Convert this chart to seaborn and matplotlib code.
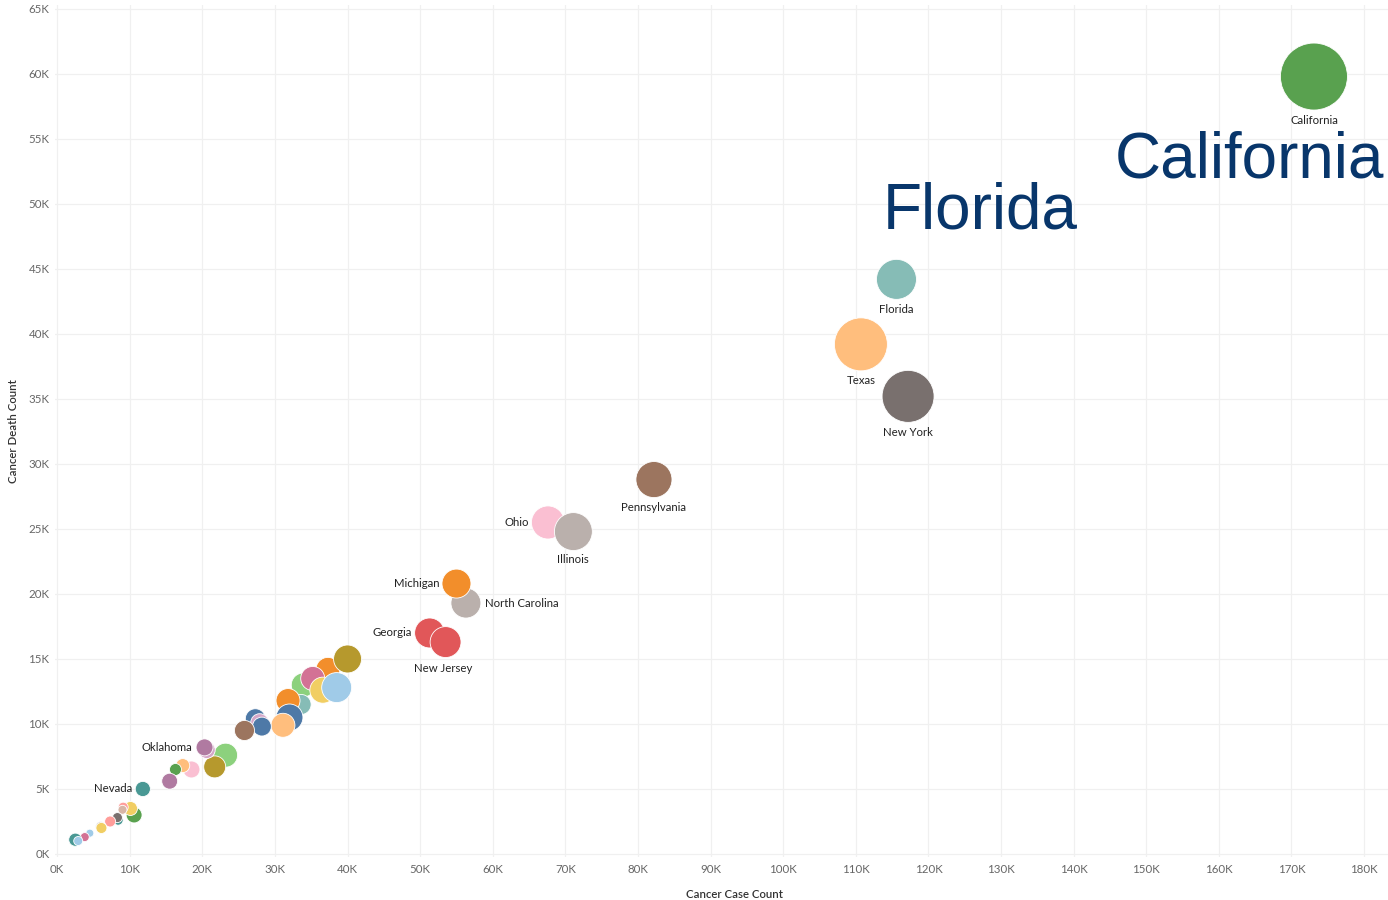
import matplotlib
matplotlib.use('Agg')

import pandas as pd
import numpy as np
import seaborn as sns
import matplotlib.pyplot as plt
from matplotlib.ticker import FuncFormatter, MultipleLocator

# values (thousands)
states = ['California', 'Florida', 'Texas', 'New York', 'Pennsylvania', 'Ohio',
          'Illinois', 'North Carolina', 'Michigan', 'Georgia', 'New Jersey',
          'Massachusetts', 'Virginia', 'Tennessee', 'Indiana', 'Missouri',
          'Washington', 'Wisconsin', 'Arizona', 'Maryland', 'Minnesota',
          'Alabama', 'South Carolina', 'Kentucky', 'Louisiana', 'Colorado',
          'Oregon', 'Iowa', 'Oklahoma', 'Arkansas', 'Kansas', 'Mississippi',
          'Connecticut', 'Nevada', 'West Virginia', 'Nebraska', 'Maine',
          'New Mexico', 'Idaho', 'Utah', 'New Hampshire', 'Montana',
          'Rhode Island', 'Delaware', 'South Dakota', 'Hawaii', 'Vermont']
case_count = [173.1, 115.6, 110.7, 117.2, 82.2, 67.6,
              71.1, 56.3, 55.0, 51.3, 53.5,
              37.3, 40.0, 33.9, 35.2, 36.6,
              38.5, 33.6, 31.8, 32.0, 31.1,
              27.3, 27.9, 28.2, 25.8, 23.2,
              21.7, 20.6, 20.3, 18.5, 17.3, 16.3,
              15.5, 11.8, 10.6, 10.1, 9.1,
              9.0, 8.4, 8.3, 7.3, 6.0,
              6.1, 4.5, 3.8, 2.5, 2.9]
death_count = [59.8, 44.2, 39.2, 35.2, 28.8, 25.5,
               24.8, 19.3, 20.8, 17.0, 16.3,
               14.2, 15.0, 13.0, 13.5, 12.6,
               12.8, 11.5, 11.8, 10.5, 9.9,
               10.4, 10.1, 9.8, 9.5, 7.6,
               6.7, 8.0, 8.2, 6.5, 6.8, 6.5,
               5.6, 5.0, 3.0, 3.5, 3.6,
               3.4, 2.6, 2.8, 2.5, 2.1,
               2.0, 1.6, 1.3, 1.1, 1.0]
# bubble measure (relative)
bubble_value = [39.0, 13.9, 24.4, 23.5, 11.3, 9.5,
                12.5, 7.8, 7.3, 7.8, 8.3,
                5.0, 6.8, 5.0, 5.0, 5.9,
                7.8, 3.5, 5.0, 6.3, 5.0,
                3.5, 2.8, 3.1, 3.5, 5.0,
                4.2, 2.5, 2.5, 2.5, 1.7, 1.25,
                2.2, 2.0, 2.2, 1.7, 0.87,
                0.7, 0.87, 0.87, 1.05, 0.87,
                1.05, 0.56, 0.7, 1.5, 0.7]

colors = ['#59A14F', '#86BCB6', '#FFBE7D', '#79706E', '#9C755F', '#FABFD2',
          '#BAB0AC', '#BAB0AC', '#F28E2B', '#E15759', '#E15759',
          '#F28E2B', '#B6992D', '#8CD17D', '#D37295', '#F1CE63',
          '#A0CBE8', '#86BCB6', '#F28E2B', '#4E79A7', '#FFBE7D',
          '#4E79A7', '#D4A6C8', '#4E79A7', '#9C755F', '#8CD17D',
          '#B6992D', '#D4A6C8', '#B07AA1', '#FABFD2', '#FFBE7D', '#59A14F',
          '#B07AA1', '#499894', '#59A14F', '#F1CE63', '#FF9D9A',
          '#D7B5A6', '#499894', '#79706E', '#FF9D9A', '#BAB0AC',
          '#F1CE63', '#A0CBE8', '#D37295', '#499894', '#A0CBE8']

df = pd.DataFrame({'state': states, 'cases': np.array(case_count) * 1000,
                   'deaths': np.array(death_count) * 1000, 'size': bubble_value})

# label placement: offset in pixels, alignment
labels = {
    'California': (0, -44, 'center'), 'Florida': (0, -30, 'center'),
    'Texas': (0, -36, 'center'), 'New York': (0, -36, 'center'),
    'Pennsylvania': (0, -28, 'center'), 'Illinois': (0, -28, 'center'),
    'New Jersey': (-2, -26, 'center'), 'Ohio': (-19, 0, 'right'),
    'Michigan': (-17, 0, 'right'), 'Georgia': (-18, 0, 'right'),
    'Nevada': (-11, 0, 'right'), 'Oklahoma': (-12, 0, 'right'),
    'North Carolina': (19, 0, 'left'),
}

sns.set_style('white')
plt.rcParams['font.family'] = ['Lato', 'DejaVu Sans']

fig = plt.figure(figsize=(13.88, 9), dpi=100)
ax = fig.add_axes([0.0396, 0.0478, 0.9604, 0.9466])

# area in pt^2 proportional to bubble_value (California ~67px wide)
k = (67 * 0.72) ** 2 / max(bubble_value)
sns.scatterplot(data=df, x='cases', y='deaths', hue='state', palette=colors,
                size='size', sizes=(k * min(bubble_value), k * max(bubble_value)),
                size_norm=(min(bubble_value), max(bubble_value)),
                edgecolor='white', linewidth=0.6, alpha=1, legend=False, ax=ax)

for name, (dx, dy, ha) in labels.items():
    row = df[df.state == name].iloc[0]
    ax.annotate(name, (row.cases, row.deaths), xytext=(dx, dy),
                textcoords='offset pixels', ha=ha, va='center',
                fontsize=8.2, color='#222222')

ax.text(145700, 52000, 'California', fontsize=46, color='#08366B',
        family=['Liberation Sans', 'DejaVu Sans'], ha='left', va='baseline')
ax.text(113700, 48100, 'Florida', fontsize=46, color='#08366B',
        family=['Liberation Sans', 'DejaVu Sans'], ha='left', va='baseline')

ax.set_xlim(-300, 183300)
ax.set_ylim(-230, 65300)
ax.xaxis.set_major_locator(MultipleLocator(10000))
ax.yaxis.set_major_locator(MultipleLocator(5000))
fmt = FuncFormatter(lambda v, p: f'{int(round(v / 1000))}K')
ax.xaxis.set_major_formatter(fmt)
ax.yaxis.set_major_formatter(fmt)
ax.tick_params(axis='both', labelsize=8.3, labelcolor='#666666', length=0)
ax.tick_params(axis='x', pad=5)
ax.tick_params(axis='y', pad=4)
ax.grid(True, color='#F0F0F0', linewidth=0.9)
for s in ax.spines.values():
    s.set_visible(False)

ax.set_xlabel('Cancer Case Count', fontsize=8.2, color='#333333',
              fontweight='semibold')
ax.set_ylabel('Cancer Death Count', fontsize=8.2, color='#333333', labelpad=7,
              fontweight='semibold')
ax.xaxis.set_label_coords(0.51, -0.038)

fig.savefig('out.png', dpi=100)
plt.close()
